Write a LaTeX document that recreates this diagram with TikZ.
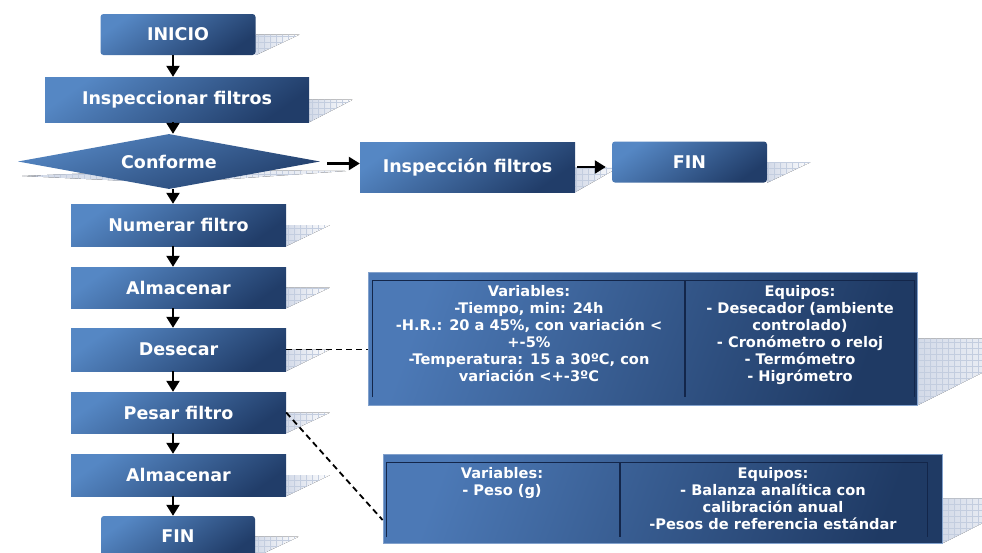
\documentclass[tikz,border=0pt]{standalone}
\usepackage{fontspec}
\newfontfamily\vfont{DejaVu Sans}
\usetikzlibrary{arrows.meta,shapes.geometric,calc,backgrounds}

\definecolor{boxlight}{HTML}{5587C4}
\definecolor{boxdark}{HTML}{213D69}
\definecolor{tablight}{HTML}{4C79B6}
\definecolor{tabdark}{HTML}{1F3A64}
\definecolor{framec}{HTML}{13264A}
\definecolor{shadec}{HTML}{D3DAE8}
\definecolor{gridc}{HTML}{C3CDDF}

\tikzset{
  flowbox/.style={rectangle, inner sep=0pt, minimum width=215pt,
    top color=boxlight, bottom color=boxdark, shading angle=35,
    text=white, font=\vfont\bfseries\fontsize{17.5}{20}\selectfont},
  endbox/.style={flowbox, rounded corners=3pt, minimum width=155pt, minimum height=41pt},
  decision/.style={diamond, inner sep=0pt, aspect=5.5,
    minimum width=302pt, minimum height=55pt,
    top color=boxlight, bottom color=boxdark, shading angle=20,
    text=white, font=\vfont\bfseries\fontsize{17.5}{20}\selectfont},
  tabbox/.style={rectangle, inner sep=0pt, draw=tablight!70!white, line width=0.8pt,
    top color=tablight, bottom color=tabdark, shading angle=70},
  tabtext/.style={anchor=north, align=center, inner sep=0pt, text=white,
    font=\vfont\bfseries\fontsize{14.6}{17}\selectfont},
  frame/.style={draw=framec, line width=1.6pt},
  arr/.style={line width=2.3pt, -{Triangle[width=13pt,length=11pt]}},
  note/.style={line width=1.8pt, dash pattern=on 6pt off 4pt},
  gridline/.style={draw=gridc, line width=0.4pt}
}

% perspective drop shade to the right of a node, with a faint grid
\newcommand\dropshade[2]{%
  \begin{scope}
    \clip (#1.east) -- ($(#1.east)+(#2,0)$) -- (#1.south east) -- cycle;
    \fill[left color=shadec, right color=white] (#1.south east) rectangle ($(#1.north east)+(#2,0)$);
    \draw[gridline, step=6pt] (#1.south east) grid ($(#1.north east)+(#2,0)$);
  \end{scope}}

\begin{document}
\begin{tikzpicture}[x=1pt, y=-1pt]
\useasboundingbox (0,0) rectangle (982,552);

% main flow
\node[endbox] (inicio) at (178,34.5) {INICIO};
\node[flowbox, minimum width=264pt, minimum height=45pt] (insp) at (177,99.5) {Inspeccionar filtros};
\node[decision] (conf) at (169,161.5) {Conforme};
\node[flowbox, minimum height=50pt] (inspf) at (467.5,167) {Inspección filtros};
\node[endbox] (fin1) at (689.5,162) {FIN};
\node[flowbox, minimum height=42pt] (numerar) at (178.5,225) {Numerar filtro};
\node[flowbox, minimum height=41pt] (alm1) at (178.5,287.5) {Almacenar};
\node[flowbox, minimum height=43pt] (desecar) at (178.5,349.5) {Desecar};
\node[flowbox, minimum height=41pt] (pesar) at (178.5,412.5) {Pesar filtro};
\node[flowbox, minimum height=42pt] (alm2) at (178.5,475) {Almacenar};
\node[endbox, minimum width=154pt] (fin2) at (178,536.5) {FIN};

% detail tables
\node[tabbox, minimum width=549pt, minimum height=133pt] (tab1) at (642.5,338.5) {};
\draw[frame] ($(tab1.south west)+(5,-8)$) |- ($(tab1.north east)+(-3,9)$) -- ($(tab1.south east)+(-3,-8)$);
\draw[frame] (685,281) -- (685,397);
\node[tabtext] (t1a) at (529,285.5) {Variables:\\-Tiempo, min: 24h\\-H.R.: 20 a 45\%, con variación <\\+-5\%\\-Temperatura: 15 a 30ºC, con\\variación <+-3ºC};
\node[tabtext] (t1b) at (800,285.5) {Equipos:\\- Desecador (ambiente\\controlado)\\- Cronómetro o reloj\\- Termómetro\\- Higrómetro};

\node[tabbox, minimum width=559pt, minimum height=89pt] (tab2) at (662.5,498.5) {};
\draw[frame] ($(tab2.south west)+(4,-6)$) |- ($(tab2.north east)+(-15,9)$) -- ($(tab2.south east)+(-15,-6)$);
\draw[frame] (620,463) -- (620,537);
\node[tabtext] (t2a) at (502,467) {Variables:\\- Peso (g)};
\node[tabtext] (t2b) at (773,467) {Equipos:\\- Balanza analítica con\\calibración anual\\-Pesos de referencia estándar};

% connectors
\coordinate (axis) at (173,0);
\draw[arr] (inicio.south -| axis) -- (insp.north -| axis);
\draw[arr] (insp.south -| axis) -- (conf.north -| axis);
\draw[arr] (conf.south -| axis) -- (numerar.north -| axis);
\draw[arr] (numerar.south -| axis) -- (alm1.north -| axis);
\draw[arr] (alm1.south -| axis) -- (desecar.north -| axis);
\draw[arr] (desecar.south -| axis) -- (pesar.north -| axis);
\draw[arr] (pesar.south -| axis) -- (alm2.north -| axis);
\draw[arr] (alm2.south -| axis) -- (fin2.north -| axis);
\draw[arr] ([xshift=7pt,yshift=-2pt]conf.east) -- ([yshift=-2pt]conf.east -| inspf.west);
\draw[arr, shorten >=6pt] ([xshift=2pt]inspf.east) -- (inspf.east -| fin1.west);
\draw[note] (desecar.east) -- (desecar.east -| tab1.west);
\draw[note] (pesar.east) -- ($(tab2.west)+(0,21.5)$);

% page ground and drop shades
\begin{pgfonlayer}{background}
  \fill[white] (0,0) rectangle (982,552);
  \foreach \n in {inicio,insp,inspf,fin1,numerar,alm1,desecar,pesar,alm2,fin2}{\dropshade{\n}{44}}
  \dropshade{tab1}{133}
  \dropshade{tab2}{89}
  \begin{scope}
    \clip (22,176) -- (172,170) -- (346,171) -- (172,183) -- cycle;
    \fill[left color=shadec, right color=shadec!40!white] (20,184) rectangle (348,168);
    \draw[gridline, step=6pt] (20,184) grid (348,168);
  \end{scope}
\end{pgfonlayer}
\end{tikzpicture}
\end{document}
